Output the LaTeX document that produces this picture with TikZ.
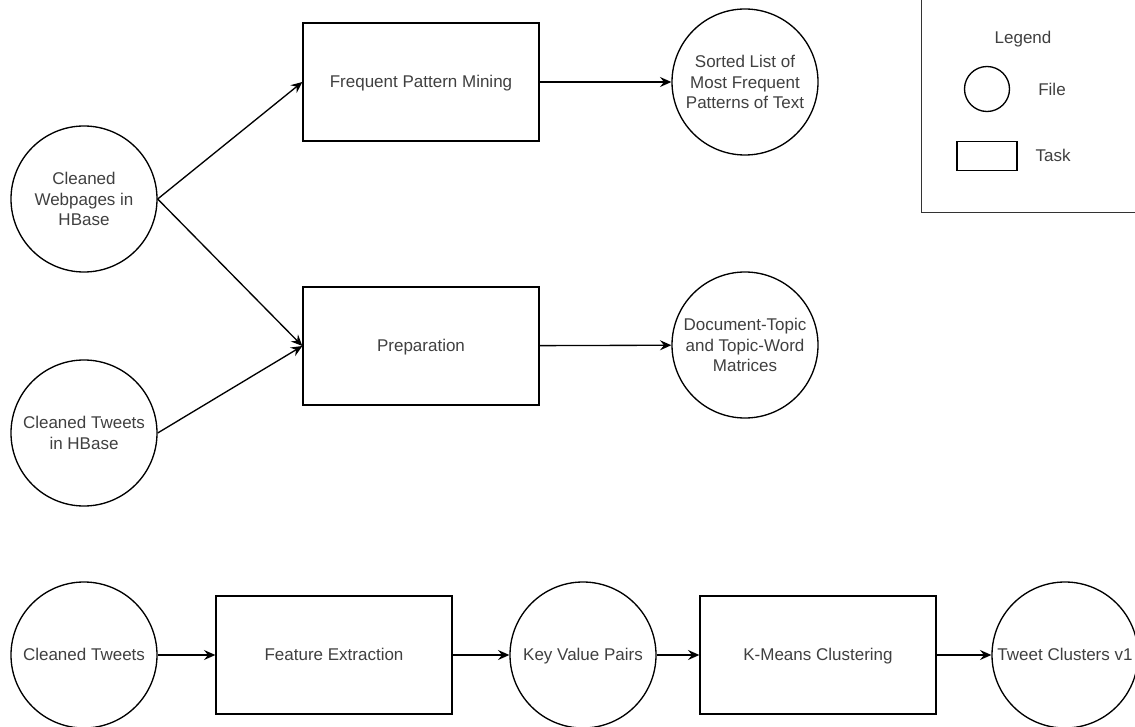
\documentclass[tikz,border=0pt]{standalone}
\usepackage{fontspec}
\setmainfont{Liberation Sans}
\usetikzlibrary{arrows.meta}
\begin{document}
\begin{tikzpicture}[x=0.75pt,y=-0.75pt,
  lbl/.style={text=black!75,font=\fontsize{12.75}{15.3}\selectfont},
  one/.style={text height=11.5pt,text depth=2.7pt},
  file/.style={circle,draw,line width=1pt,minimum size=109.5pt,inner sep=0pt,align=center,lbl},
  task/.style={rectangle,draw,line width=1pt,minimum width=177pt,minimum height=88.5pt,inner sep=0pt,align=center,lbl,one},
  flow/.style={line width=1pt,-{Stealth[length=8.5pt,width=7.5pt,inset=3pt]}}]
\clip (0,0) rectangle (1135,727);
\fill[white] (0,0) rectangle (1135,727);

% top part
\node[file] (web) at (84,199) {Cleaned\\Webpages in\\HBase};
\node[file] (twh) at (84,433) {Cleaned Tweets\\in HBase};
\node[task] (fpm) at (421,82) {Frequent Pattern Mining};
\node[task] (prep) at (421,346) {Preparation};
\node[file] (sorted) at (745,82) {Sorted List of\\Most Frequent\\Patterns of Text};
\node[file] (doc) at (745,345) {Document-Topic\\and Topic-Word\\Matrices};

\draw[flow] (web.east) -- (fpm.west);
\draw[flow] (web.east) -- (prep.west);
\draw[flow] (twh.east) -- (prep.west);
\draw[flow] (fpm) -- (sorted);
\draw[flow] (prep) -- (doc);

% bottom row
\node[file,one] (ct) at (84,655) {Cleaned Tweets};
\node[task] (fe) at (334,655) {Feature Extraction};
\node[file,one] (kv) at (583,655) {Key Value Pairs};
\node[task] (km) at (818,655) {K-Means Clustering};
\node[file,one] (tc) at (1065,655) {\makebox[0pt][c]{Tweet Clusters v1}};

\draw[flow] (ct) -- (fe);
\draw[flow] (fe) -- (kv);
\draw[flow] (kv) -- (km);
\draw[flow] (km) -- (tc);

% legend
\node[draw=black!80,line width=1pt,minimum width=165pt,minimum height=168pt,inner sep=0pt,anchor=south west] (legend) at (921,213) {};
\node[lbl,one] (legtitle) at (1023,38) {Legend};
\node[circle,draw,line width=1pt,minimum size=33.75pt,inner sep=0pt] (legfile) at (987,89) {};
\node[lbl,one] (legfiletxt) at (1052,90) {File};
\node[draw,line width=1pt,minimum width=45pt,minimum height=21.75pt,inner sep=0pt] (legtask) at (987,156) {};
\node[lbl,one] (legtasktxt) at (1053,156) {Task};
\end{tikzpicture}
\end{document}
